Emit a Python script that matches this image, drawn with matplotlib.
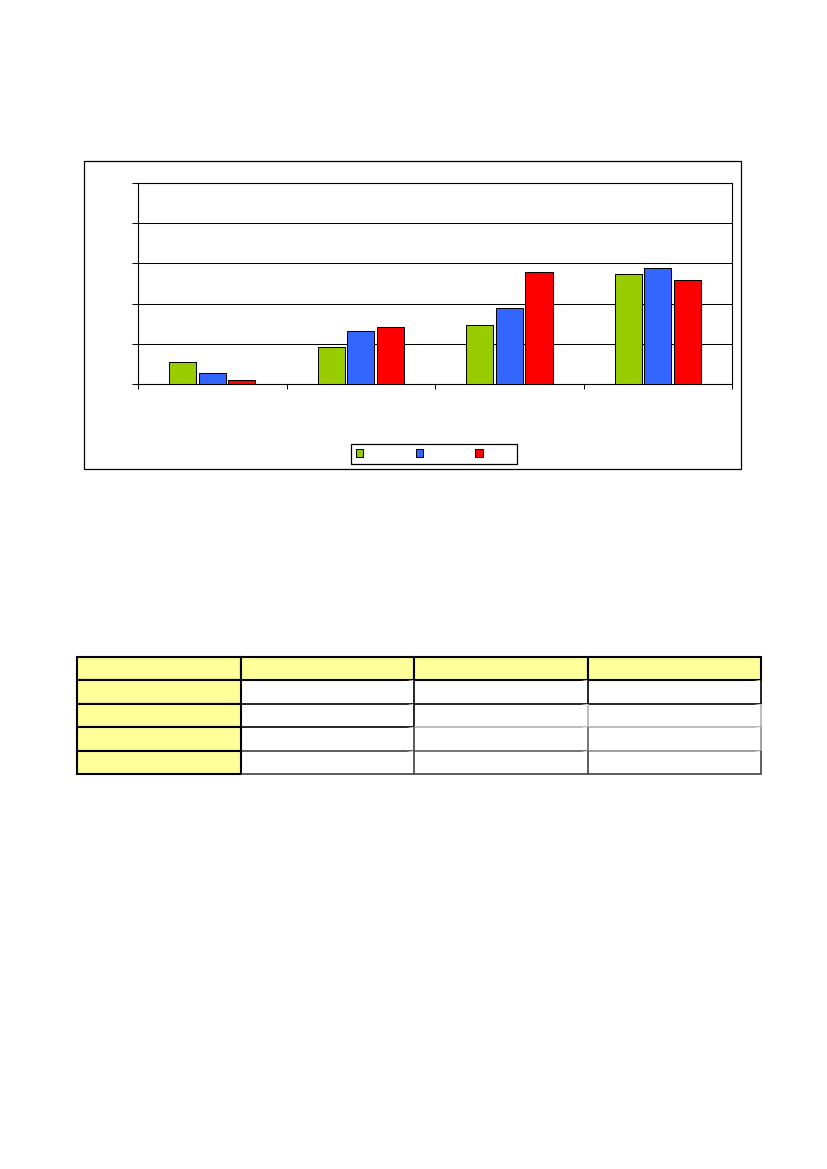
import matplotlib
matplotlib.use("Agg")
import matplotlib.pyplot as plt
from matplotlib.patches import Rectangle, Patch

# bar values (gridline step = 10)
groups = [0, 1, 2, 3]
green_vals = [5.5, 9.2, 14.7, 27.4]
blue_vals = [2.8, 13.1, 18.8, 28.9]
red_vals = [0.9, 14.3, 27.9, 25.8]
series = [green_vals, blue_vals, red_vals]
colors = ["#99CC00", "#3366FF", "#FF0000"]
y_ticks = [0, 10, 20, 30, 40, 50]

# table layout: 5 rows x 4 cols, all cells empty
n_rows, n_cols = 5, 4
col_widths = [163.4, 173.3, 173.7, 173.3]
data_edge = [
    ["black", "black", "black"],
    ["black", "#b0b0b0", "#b0b0b0"],
    ["#404040", "#606060", "#909090"],
    ["#404040", "#404040", "#404040"],
]

fig = plt.figure(figsize=(8.27, 11.69), dpi=100)

# outer chart frame
fig.add_artist(Rectangle((0.1019, 0.5988), 0.7944, 0.2632, transform=fig.transFigure,
                         fill=False, edgecolor="black", linewidth=0.9))

ax = fig.add_axes([0.1669, 0.6715, 0.7183, 0.1719])
offsets = [-0.2, 0.0, 0.2]
for vals, off, c in zip(series, offsets, colors):
    ax.bar([g + off for g in groups], vals, width=0.182, color=c,
           edgecolor="black", linewidth=0.75, zorder=3)

ax.set_xlim(-0.5, 3.5)
ax.set_ylim(0, 50)
ax.set_yticks(y_ticks)
ax.set_xticks([-0.5, 0.5, 1.5, 2.5, 3.5])
ax.tick_params(axis="y", length=4, width=0.75, labelleft=False, direction="out")
ax.tick_params(axis="x", length=3.5, width=0.75, labelbottom=False, direction="out")
ax.grid(axis="y", color="black", linewidth=0.75)
ax.set_axisbelow(True)
for sp in ax.spines.values():
    sp.set_linewidth(0.8)
    sp.set_color("black")

handles = [Patch(facecolor=c, edgecolor="black", linewidth=0.75) for c in colors]
leg = fig.legend(handles, ["", "", ""], ncol=3, loc="center",
                 bbox_to_anchor=(0.5248, 0.6116), fontsize=8,
                 handlelength=0.66, handleheight=0.66, handletextpad=2.67,
                 columnspacing=2.04, borderpad=0.45, fancybox=False,
                 edgecolor="black", framealpha=1)
leg.get_frame().set_linewidth(0.9)

# table below the chart
tax = fig.add_axes([0.0935, 0.3379, 0.8267, 0.1003])
tax.axis("off")
total = sum(col_widths)
cell_text = [[""] * n_cols for _ in range(n_rows)]
tbl = tax.table(cellText=cell_text, colWidths=[w / total for w in col_widths],
                bbox=[0, 0, 1, 1])
for (r, c), cell in tbl.get_celld().items():
    if r == 0 or c == 0:
        cell.set_facecolor("#FFFF99")
        cell.set_edgecolor("black")
        cell.set_linewidth(1.5)
    else:
        cell.set_facecolor("white")
        cell.visible_edges = "BR"
        cell.set_edgecolor(data_edge[r - 1][c - 1])
        cell.set_linewidth(1.2)

fig.savefig("out.png", dpi=100)
